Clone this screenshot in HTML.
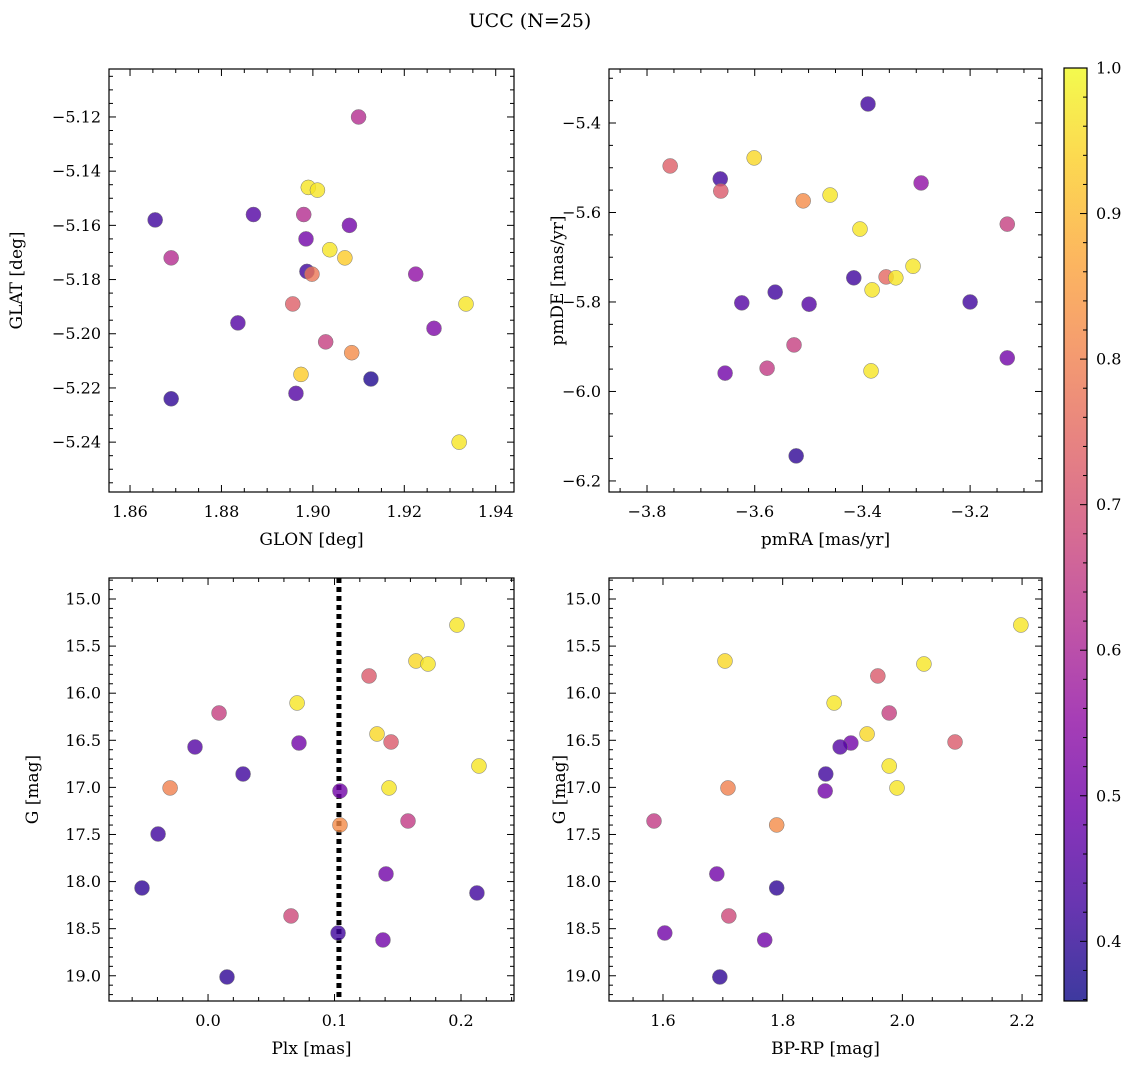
<!DOCTYPE html>
<html><head><meta charset="utf-8"><style>
html,body{margin:0;padding:0;background:#fff;}
svg text{font-family:"DejaVu Serif","Liberation Serif",serif;fill:#000;}
</style></head><body>
<svg id="fig" width="1136" height="1068" xmlns="http://www.w3.org/2000/svg">
<defs><linearGradient id="plasma" x1="0" y1="1" x2="0" y2="0">
<stop offset="0" stop-color="#0d0887"/><stop offset="0.1" stop-color="#41049d"/><stop offset="0.2" stop-color="#6a00a8"/><stop offset="0.3" stop-color="#8f0da4"/><stop offset="0.4" stop-color="#b12a90"/><stop offset="0.5" stop-color="#cc4778"/><stop offset="0.6" stop-color="#e16462"/><stop offset="0.7" stop-color="#f2844b"/><stop offset="0.8" stop-color="#fca636"/><stop offset="0.9" stop-color="#fcce25"/><stop offset="1" stop-color="#f0f921"/>
</linearGradient></defs>
<text x="530" y="27" font-size="19" text-anchor="middle">UCC (N=25)</text>
</svg>
<script>
// ---- data ----
const tlGlon=[1.910,1.899,1.901,1.8655,1.887,1.898,1.908,1.8985,1.869,1.9037,1.907,1.8987,1.8998,1.9225,1.9335,1.8956,1.8836,1.9265,1.9028,1.9085,1.8974,1.9127,1.8963,1.869,1.932];
const tlGlat=[-5.120,-5.146,-5.147,-5.158,-5.156,-5.156,-5.160,-5.165,-5.172,-5.169,-5.172,-5.177,-5.178,-5.178,-5.189,-5.189,-5.196,-5.198,-5.203,-5.207,-5.215,-5.2167,-5.222,-5.224,-5.240];
const tlProb=[0.62,0.97,0.97,0.42,0.45,0.62,0.5,0.5,0.62,0.97,0.93,0.42,0.78,0.55,0.97,0.73,0.45,0.52,0.66,0.82,0.93,0.38,0.45,0.40,0.97];
const trPmra=[-3.3896,-3.757,-3.664,-3.291,-3.601,-3.663,-3.510,-3.460,-3.131,-3.4045,-3.306,-3.356,-3.338,-3.416,-3.382,-3.562,-3.624,-3.200,-3.499,-3.527,-3.577,-3.655,-3.384,-3.131,-3.523];
const trPmde=[-5.3575,-5.496,-5.525,-5.534,-5.478,-5.552,-5.574,-5.561,-5.626,-5.637,-5.720,-5.744,-5.746,-5.746,-5.773,-5.778,-5.802,-5.800,-5.805,-5.896,-5.948,-5.959,-5.954,-5.925,-6.144];
const trProb=[0.42,0.73,0.42,0.55,0.95,0.72,0.82,0.97,0.66,0.97,0.97,0.75,0.97,0.42,0.97,0.42,0.45,0.42,0.45,0.66,0.65,0.5,0.97,0.5,0.40];
const blPlx=[0.1968,0.1644,0.1739,0.1273,0.0704,0.0087,0.1336,0.1447,0.0719,-0.0103,0.2142,0.0277,-0.0300,0.1431,0.1043,0.1043,0.1581,-0.0395,0.1407,-0.0522,0.2126,0.0656,0.1028,0.1383,0.015];
const blG=[15.276,15.658,15.690,15.817,16.104,16.210,16.433,16.518,16.529,16.571,16.773,16.858,17.006,17.006,17.038,17.399,17.357,17.495,17.919,18.068,18.121,18.365,18.546,18.62,19.013];
const blProb=[0.97,0.95,0.97,0.72,0.97,0.66,0.95,0.72,0.5,0.45,0.97,0.42,0.8,0.97,0.5,0.82,0.65,0.42,0.5,0.40,0.42,0.68,0.42,0.5,0.40];
const plxMean=[0.1035];
const brColor=[2.198,1.7036,2.036,1.959,1.886,1.978,1.941,2.088,1.914,1.896,1.978,1.872,1.7086,1.991,1.871,1.790,1.585,1.690,1.790,1.710,1.603,1.770,1.695];
const brG=[15.276,15.658,15.690,15.817,16.104,16.210,16.433,16.518,16.529,16.571,16.773,16.858,17.006,17.006,17.038,17.399,17.357,17.919,18.068,18.365,18.546,18.62,19.013];
const brProb=[0.97,0.95,0.97,0.72,0.97,0.66,0.95,0.72,0.5,0.45,0.97,0.42,0.8,0.97,0.5,0.82,0.65,0.5,0.40,0.68,0.5,0.5,0.40];
const cbTicks=[0.4,0.5,0.6,0.7,0.8,0.9,1.0];
const cbMin=0.359, cbMax=1.0;

const NS="http://www.w3.org/2000/svg";
const svg=document.getElementById('fig');
function mk(tag,attrs,parent){const e=document.createElementNS(NS,tag);for(const k in attrs)e.setAttribute(k,attrs[k]);(parent||svg).appendChild(e);return e;}
const stops=[[0,[13,8,135]],[0.1,[65,4,157]],[0.2,[106,0,168]],[0.3,[143,13,164]],[0.4,[177,42,144]],[0.5,[204,71,120]],[0.6,[225,100,98]],[0.7,[242,132,75]],[0.8,[252,166,54]],[0.9,[252,206,37]],[1,[240,249,33]]];
function plasma(v){let t=(v-cbMin)/(cbMax-cbMin);t=Math.max(0,Math.min(1,t));
for(let i=1;i<stops.length;i++){if(t<=stops[i][0]){const a=stops[i-1],b=stops[i],f=(t-a[0])/(b[0]-a[0]);const c=a[1].map((x,j)=>Math.round(x+(b[1][j]-x)*f));return `rgb(${c[0]},${c[1]},${c[2]})`;}}return 'rgb(240,249,33)';}
function fmt(v,d){const s=Math.abs(v).toFixed(d);return (v<-1e-9?'−':'')+s;}

function panel(o){
  const g=mk('g',{});
  
  
  const X=v=>o.x0+(v-o.xmin)/(o.xmax-o.xmin)*(o.x1-o.x0);
  const Y=o.yinv? v=>o.y0+(v-o.ymin)/(o.ymax-o.ymin)*(o.y1-o.y0) : v=>o.y1-(v-o.ymin)/(o.ymax-o.ymin)*(o.y1-o.y0);
  const tk=mk('g',{stroke:'#000','stroke-width':1},g);
  
  
  const eps=1e-9;
  for(let v=Math.ceil(o.xmin/o.xminor-eps)*o.xminor;v<=o.xmax+eps;v+=o.xminor){const p=X(v);const isMaj=Math.abs(v/o.xmajor-Math.round(v/o.xmajor))<1e-6;const L=isMaj?7:4;
    mk('line',{x1:p,x2:p,y1:o.y1,y2:o.y1-L},tk);mk('line',{x1:p,x2:p,y1:o.y0,y2:o.y0+L},tk);
    if(isMaj){const t=mk('text',{x:p,y:o.y1+25,'font-size':16,'text-anchor':'middle'},g);t.textContent=fmt(v,o.xd);
      
      }}
  for(let v=Math.ceil(o.ymin/o.yminor-eps)*o.yminor;v<=o.ymax+eps;v+=o.yminor){const p=Y(v);const isMaj=Math.abs(v/o.ymajor-Math.round(v/o.ymajor))<1e-6;const L=isMaj?7:4;
    mk('line',{y1:p,y2:p,x1:o.x0,x2:o.x0+L},tk);mk('line',{y1:p,y2:p,x1:o.x1,x2:o.x1-L},tk);
    if(isMaj){const t=mk('text',{x:o.x0-8,y:p+5.5,'font-size':16,'text-anchor':'end'},g);t.textContent=fmt(v,o.yd);
      
      }}
  if(o.vline!==undefined){const l=mk('line',{x1:X(o.vline),x2:X(o.vline),y1:o.y0,y2:o.y1,stroke:'#000','stroke-width':5,'stroke-dasharray':'5 4'},g);
    
    }
  for(let i=0;i<o.xs.length;i++){const c=mk('circle',{cx:X(o.xs[i]),cy:Y(o.ys[i]),r:7.5,fill:plasma(o.cs[i]),'fill-opacity':0.8,stroke:'#777','stroke-width':0.5},g);
    
    }
  const fr=mk('rect',{x:o.x0,y:o.y0,width:o.x1-o.x0,height:o.y1-o.y0,fill:'none',stroke:'#000','stroke-width':1.2},g);
  
  
  const xl=mk('text',{x:(o.x0+o.x1)/2,y:o.y1+53,'font-size':17,'text-anchor':'middle'},g);xl.textContent=o.xlabel;
  
  
  const yx=o.ylx, yy=(o.y0+o.y1)/2;
  const yl=mk('text',{x:yx,y:yy,'font-size':17,'text-anchor':'middle',transform:`rotate(-90 ${yx} ${yy})`},g);yl.textContent=o.ylabel;
  
  
}
panel({name:'glon-glat-panel',x0:109,x1:514,y0:69,y1:492,xmin:1.8554,xmax:1.944,ymin:-5.2584,ymax:-5.1023,xmajor:0.02,xminor:0.005,ymajor:0.02,yminor:0.005,xd:2,yd:2,xs:tlGlon,ys:tlGlat,cs:tlProb,xlabel:'GLON [deg]',ylabel:'GLAT [deg]',ylx:22});
panel({name:'pm-panel',x0:609,x1:1042,y0:69,y1:492,xmin:-3.8706,xmax:-3.0665,ymin:-6.2247,ymax:-5.2793,xmajor:0.2,xminor:0.05,ymajor:0.2,yminor:0.05,xd:1,yd:1,xs:trPmra,ys:trPmde,cs:trProb,xlabel:'pmRA [mas/yr]',ylabel:'pmDE [mas/yr]',ylx:563});
panel({name:'plx-g-panel',x0:109,x1:514,y0:578,y1:1001,xmin:-0.0783,xmax:0.2419,ymin:14.777,ymax:19.268,yinv:true,xmajor:0.1,xminor:0.02,ymajor:0.5,yminor:0.1,xd:1,yd:1,xs:blPlx,ys:blG,cs:blProb,xlabel:'Plx [mas]',ylabel:'G [mag]',ylx:38,vline:plxMean[0]});
panel({name:'cmd-panel',x0:609,x1:1042,y0:578,y1:1001,xmin:1.5098,xmax:2.2333,ymin:14.777,ymax:19.268,yinv:true,xmajor:0.2,xminor:0.05,ymajor:0.5,yminor:0.1,xd:1,yd:1,xs:brColor,ys:brG,cs:brProb,xlabel:'BP-RP [mag]',ylabel:'G [mag]',ylx:565});
const cb=mk('g',{});


const cx0=1064,cx1=1087,cy0=68,cy1=1001;
mk('rect',{x:cx0,y:cy0,width:cx1-cx0,height:cy1-cy0,fill:'url(#plasma)','fill-opacity':0.8,stroke:'none'},cb);
mk('rect',{x:cx0,y:cy0,width:cx1-cx0,height:cy1-cy0,fill:'none',stroke:'#000','stroke-width':1.2},cb);
const CY=v=>cy1-(v-cbMin)/(cbMax-cbMin)*(cy1-cy0);
for(let v=0.36;v<=1.0001;v+=0.02){const p=CY(v);const maj=Math.abs(v*10-Math.round(v*10))<1e-6;mk('line',{x1:cx1,x2:cx1-(maj?7:4),y1:p,y2:p,stroke:'#000','stroke-width':1},cb);}
cbTicks.forEach(v=>{const t=mk('text',{x:cx1+9,y:CY(v)+5.5,'font-size':16},cb);t.textContent=v.toFixed(1);
  
  });
</script>
</body></html>
